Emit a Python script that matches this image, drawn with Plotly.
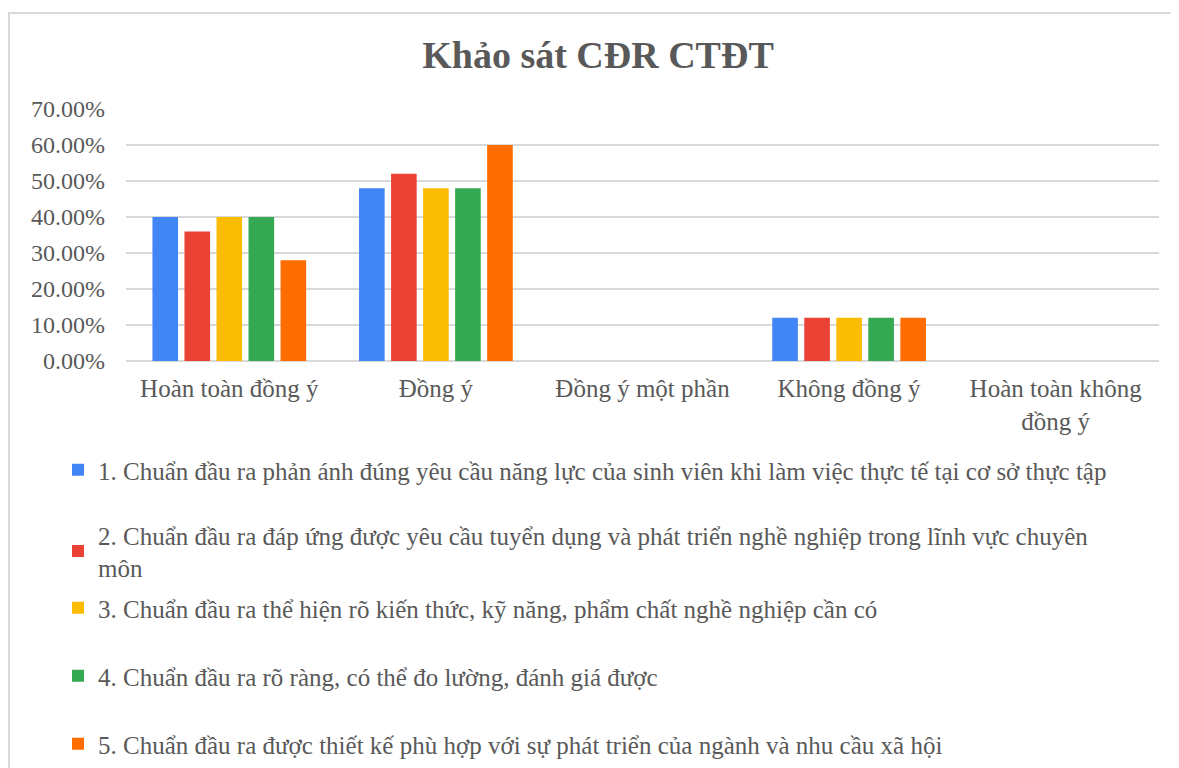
import plotly.graph_objects as go

categories = ["Hoàn toàn đồng ý", "Đồng ý", "Đồng ý một phần", "Không đồng ý", "Hoàn toàn không<br>đồng ý"]
series_names = [
    "1. Chuẩn đầu ra phản ánh đúng yêu cầu năng lực của sinh viên khi làm việc thực tế tại cơ sở thực tập",
    "2. Chuẩn đầu ra đáp ứng được yêu cầu tuyển dụng và phát triển nghề nghiệp trong lĩnh vực chuyên<br>môn",
    "3. Chuẩn đầu ra thể hiện rõ kiến thức, kỹ năng, phẩm chất nghề nghiệp cần có",
    "4. Chuẩn đầu ra rõ ràng, có thể đo lường, đánh giá được",
    "5. Chuẩn đầu ra được thiết kế phù hợp với sự phát triển của ngành và nhu cầu xã hội",
]
s1 = [0.40, 0.48, 0.0, 0.12, 0.0]
s2 = [0.36, 0.52, 0.0, 0.12, 0.0]
s3 = [0.40, 0.48, 0.0, 0.12, 0.0]
s4 = [0.40, 0.48, 0.0, 0.12, 0.0]
s5 = [0.28, 0.60, 0.0, 0.12, 0.0]
series_values = [s1, s2, s3, s4, s5]
colors = ["#4285F4", "#EA4335", "#FBBC04", "#34A853", "#FF6D01"]
y_ticks = [0, 0.1, 0.2, 0.3, 0.4, 0.5, 0.6, 0.7]

W, H = 1179, 768
FONT = "Liberation Serif, Times New Roman, serif"
GREY = "#595959"
OFF = 8  # page offset of the figure inside the browser

# plot area in page pixels
PL, PR, PT, PB = 126, 1159, 109, 361
ML, MR, MT = PL - OFF, W - (PR - OFF), PT - OFF
MB = H - (PB - OFF)

legend_centers = [470, 551, 608, 676, 744]  # page y (center) of each legend item

fig = go.Figure()
legend_keys = ["legend", "legend2", "legend3", "legend4", "legend5"]
for i, (name, vals, col) in enumerate(zip(series_names, series_values, colors)):
    fig.add_trace(go.Bar(
        x=categories, y=vals, name=name,
        marker=dict(color=col, line=dict(width=0)),
        legend=legend_keys[i],
    ))

layout_legends = {}
for i, key in enumerate(legend_keys):
    layout_legends[key] = dict(
        x=(58 - OFF) / W, xref="container", xanchor="left",
        y=1 - (legend_centers[i] - OFF) / H, yref="container", yanchor="middle",
        font=dict(family=FONT, size=25, color=GREY),
        bgcolor="rgba(0,0,0,0)", itemwidth=30,
    )

fig.update_layout(
    width=W, height=H,
    paper_bgcolor="white", plot_bgcolor="white",
    margin=dict(l=ML, r=MR, t=MT, b=MB, autoexpand=False),
    title=dict(text="<b>Khảo sát CĐR CTĐT</b>", x=(598 - OFF) / W, xanchor="center",
               y=1 - (55 - OFF) / H, yanchor="middle",
               font=dict(family=FONT, size=38, color=GREY)),
    barmode="group", bargap=0.225, bargroupgap=0.2,
    showlegend=True,
    font=dict(family=FONT, size=24, color=GREY),
    **layout_legends,
)
fig.update_yaxes(range=[0, 0.7], tickvals=y_ticks, tickformat=".2%",
                 showgrid=True, gridcolor="#D9D9D9", gridwidth=1.5,
                 zeroline=True, zerolinecolor="#D9D9D9", zerolinewidth=1.5,
                 showline=False, ticks="", ticklabelstandoff=20,
                 tickfont=dict(family=FONT, size=24, color=GREY))
fig.update_xaxes(showline=False, ticks="", showgrid=False, tickangle=0,
                 tickfont=dict(family=FONT, size=25, color=GREY), ticklabelstandoff=10)

# chart border (light grey frame as in the reference)
plot_w = W - ML - MR
plot_h = H - MT - MB
fig.add_shape(type="rect", xref="paper", yref="paper",
              x0=(1 - ML) / plot_w, x1=(W + 5 - ML) / plot_w,
              y0=(PB - OFF - (H + 5)) / plot_h, y1=(PB - OFF - (13 - OFF)) / plot_h,
              line=dict(color="#D9D9D9", width=2), fillcolor="rgba(0,0,0,0)", layer="below")

fig.write_html("out.html")
